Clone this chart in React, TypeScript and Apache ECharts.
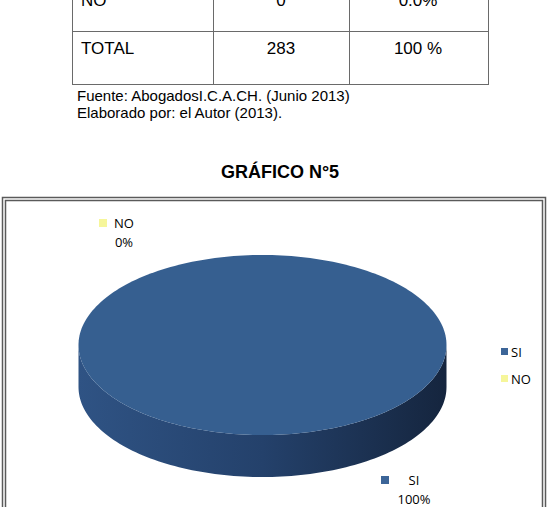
import React, { useEffect, useRef } from "react";
import * as echarts from "echarts";

// ---- data ----
const categories = ["SI", "NO"];
const values = [283, 0];
const percentLabels = ["100%", "0%"];
const tableRows = [
  ["NO", "0", "0.0%"],
  ["TOTAL", "283", "100 %"],
];
const sourceLines = ["Fuente: AbogadosI.C.A.CH. (Junio 2013)", "Elaborado por: el Autor (2013)."];
const chartTitle = "GRÁFICO N°5";

// ---- styling / layout ----
const W = 551;
const H = 507;
const sliceColors = ["#365F90", "#F6F69A"];
const legendColors = ["#3C6598", "#F6F69A"];
const sideColors = [
  ["#2F5384", "#24416B", "#15253E"],
  ["#D8D880", "#C8C870", "#A8A850"],
];
const PIE = { cx: 262.5, cy: 345, rx: 184, ry: 90, depth: 42 };
const labelPos = [
  { mx: 381, my: 476, tx: 414, ty: 480 },
  { mx: 99, my: 219, tx: 124, ty: 223 },
];
const SANS = "'Liberation Sans', Arial, sans-serif";
const LABEL_FONT = "'Open Sans', sans-serif";

function pt(theta: number, dy = 0) {
  return [PIE.cx + PIE.rx * Math.sin(theta), PIE.cy - PIE.ry * Math.cos(theta) + dy];
}

function arc(a0: number, a1: number, dy = 0) {
  const n = Math.max(2, Math.ceil(((a1 - a0) / (2 * Math.PI)) * 240));
  const pts: number[][] = [];
  for (let i = 0; i <= n; i++) pts.push(pt(a0 + ((a1 - a0) * i) / n, dy));
  return pts;
}

export default function App() {
  const ref = useRef<HTMLDivElement>(null);
  useEffect(() => {
    if (!ref.current) return;
    const chart = echarts.init(ref.current, undefined, { renderer: "svg" });
    const total = values.reduce((a, b) => a + b, 0);
    const starts: number[] = [];
    let acc = 0;
    values.forEach((v) => {
      starts.push((acc / total) * 2 * Math.PI);
      acc += v;
    });

    const series = categories.map((name, idx) => ({
      type: "custom",
      name,
      coordinateSystem: "none",
      itemStyle: { color: legendColors[idx] },
      data: [[values[idx]]],
      renderItem: (params: any, api: any) => {
        const v = api.value(0) as number;
        if (!v) return { type: "group", children: [] };
        const a0 = starts[idx];
        const a1 = a0 + (v / total) * 2 * Math.PI;
        const full = a1 - a0 >= 2 * Math.PI - 1e-6;
        const children: any[] = [];
        // side (front half only: angles between PI/2 and 3PI/2)
        const s = Math.max(a0, Math.PI / 2);
        const e = Math.min(a1, (3 * Math.PI) / 2);
        if (e > s) {
          const top = arc(s, e, 0);
          const bottom = arc(s, e, PIE.depth).reverse();
          children.push({
            type: "polygon",
            shape: { points: top.concat(bottom) },
            style: {
              fill: new echarts.graphic.LinearGradient(0, 0, 1, 0, [
                { offset: 0, color: sideColors[idx][0] },
                { offset: 0.5, color: sideColors[idx][1] },
                { offset: 1, color: sideColors[idx][2] },
              ]),
            },
          });
        }
        const topPts = full ? arc(0, 2 * Math.PI) : [[PIE.cx, PIE.cy]].concat(arc(a0, a1));
        children.push({
          type: "polygon",
          shape: { points: topPts },
          style: { fill: sliceColors[idx] },
        });
        return { type: "group", children };
      },
    }));

    const graphics: any[] = [];
    // table lines
    const colX = [72, 213, 349, 488];
    colX.forEach((x) =>
      graphics.push({ type: "line", shape: { x1: x + 0.5, y1: 0, x2: x + 0.5, y2: 84.5 }, style: { stroke: "#6a6a6a", lineWidth: 1 } })
    );
    [31, 84].forEach((y) =>
      graphics.push({ type: "line", shape: { x1: 72, y1: y + 0.5, x2: 489, y2: y + 0.5 }, style: { stroke: "#6a6a6a", lineWidth: 1 } })
    );
    const rowY = [0, 48];
    tableRows.forEach((row, r) => {
      graphics.push({ type: "text", style: { text: row[0], x: 81, y: rowY[r], fontSize: 17, fontFamily: SANS, fill: "#000", align: "left", verticalAlign: "middle" } });
      graphics.push({ type: "text", style: { text: row[1], x: 281, y: rowY[r], fontSize: 17, fontFamily: SANS, fill: "#000", align: "center", verticalAlign: "middle" } });
      graphics.push({ type: "text", style: { text: row[2], x: 418, y: rowY[r], fontSize: 17, fontFamily: SANS, fill: "#000", align: "center", verticalAlign: "middle" } });
    });
    sourceLines.forEach((t, i) =>
      graphics.push({ type: "text", style: { text: t, x: 77, y: 95 + i * 17, fontSize: 15, fontFamily: SANS, fill: "#000", align: "left", verticalAlign: "middle" } })
    );
    graphics.push({ type: "text", style: { text: chartTitle, x: 280, y: 172, fontSize: 18, fontWeight: "bold", fontFamily: SANS, fill: "#000", align: "center", verticalAlign: "middle" } });
    // chart double border
    graphics.push({ type: "rect", shape: { x: 2.5, y: 197.5, width: 543, height: 340 }, style: { fill: "none", stroke: "#5a5a5a", lineWidth: 1.5 } });
    graphics.push({ type: "rect", shape: { x: 5.5, y: 200.5, width: 537, height: 340 }, style: { fill: "none", stroke: "#5a5a5a", lineWidth: 1.5 } });
    // data labels
    categories.forEach((c, i) => {
      const p = labelPos[i];
      graphics.push({ type: "rect", shape: { x: p.mx, y: p.my, width: 8, height: 8 }, style: { fill: legendColors[i] } });
      graphics.push({ type: "text", style: { text: c, x: p.tx, y: p.ty, fontSize: 13, fontFamily: LABEL_FONT, fill: "#000", align: "center", verticalAlign: "middle" } });
      graphics.push({ type: "text", style: { text: percentLabels[i], x: p.tx, y: p.ty + 19, fontSize: 13, fontFamily: LABEL_FONT, fill: "#000", align: "center", verticalAlign: "middle" } });
    });

    chart.setOption({
      animation: false,
      backgroundColor: "#ffffff",
      legend: {
        data: categories,
        orient: "vertical",
        left: 496,
        top: 340,
        icon: "rect",
        itemWidth: 7,
        itemHeight: 7,
        itemGap: 14,
        textStyle: { fontSize: 13, fontFamily: LABEL_FONT, color: "#000", padding: [0, 0, 0, -2] },
        selectedMode: false,
      },
      graphic: graphics,
      series,
    });
    return () => chart.dispose();
  }, []);
  return <div ref={ref} style={{ position: "absolute", left: 0, top: 0, width: W, height: H }} />;
}
